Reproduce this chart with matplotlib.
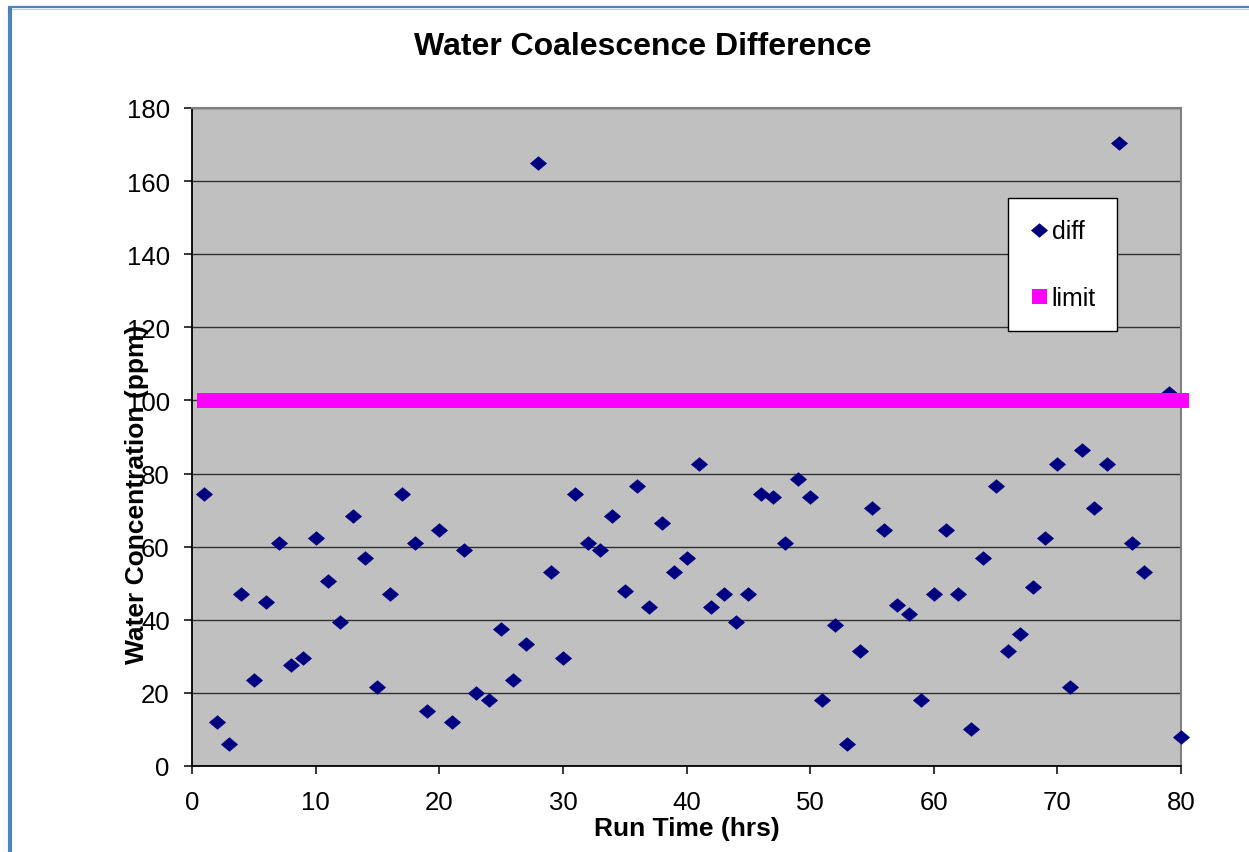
import matplotlib
matplotlib.use("Agg")
import matplotlib.pyplot as plt
from matplotlib.lines import Line2D

plt.rcParams['font.family'] = ['Liberation Sans', 'DejaVu Sans']

# ---- data ----
run_time = list(range(1, 78)) + [79, 80]
diff = [74.5, 12, 6, 47, 23.5, 45, 61, 27.5, 29.5, 62.5,
        50.5, 39.5, 68.5, 57, 21.5, 47, 74.5, 61, 15, 64.5,
        12, 59, 20, 18, 37.5, 23.5, 33.5, 165, 53, 29.5,
        74.5, 61, 59, 68.5, 48, 76.5, 43.5, 66.5, 53, 57,
        82.5, 43.5, 47, 39.5, 47, 74.5, 73.5, 61, 78.5, 73.5,
        18, 38.5, 6, 31.5, 70.5, 64.5, 44, 41.5, 18, 47,
        64.5, 47, 10, 57, 76.5, 31.5, 36, 49, 62.5, 82.5,
        21.5, 86.5, 70.5, 82.5, 170.5, 61, 53, 102, 8]
limit_x = list(range(1, 81))
limit_y = [100] * 80

title = "Water Coalescence Difference"
xlabel = "Run Time (hrs)"
ylabel = "Water Concentration (ppm)"
xticks = [0, 10, 20, 30, 40, 50, 60, 70, 80]
yticks = [0, 20, 40, 60, 80, 100, 120, 140, 160, 180]

W, H = 1249, 853
fig = plt.figure(figsize=(W / 100, H / 100), dpi=100)
fig.patch.set_facecolor('white')

# outer chart border (blue, left and top)
fig.add_artist(Line2D([10 / W, 10 / W], [0, 1 - 8 / H], color='#4F81BD', lw=3.0,
                      transform=fig.transFigure, solid_capstyle='butt'))
fig.add_artist(Line2D([8 / W, 1], [1 - 8 / H, 1 - 8 / H], color='#4F81BD', lw=1.6,
                      transform=fig.transFigure, solid_capstyle='butt'))
fig.add_artist(Line2D([12 / W, 1], [1 - 9.8 / H, 1 - 9.8 / H], color='#B9CDE5', lw=0.8,
                      transform=fig.transFigure, solid_capstyle='butt'))

l, r, t, b = 192, 1181, 109, 767
ax = fig.add_axes([l / W, 1 - b / H, (r - l) / W, (b - t) / H])
ax.set_facecolor('#C0C0C0')

diamond = [(-1, 0), (0, 0.85), (1, 0), (0, -0.85), (-1, 0)]
ax.plot(run_time, diff, linestyle='none', marker=diamond, markersize=11.5,
        color='#000080', markeredgecolor='#000080', markeredgewidth=0.5,
        label='diff', zorder=3, clip_on=False)
ax.plot(limit_x, limit_y, linestyle='none', marker='s', markersize=10.8,
        color='#FF00FF', markeredgewidth=0, label='limit', zorder=4,
        clip_on=False)

ax.set_xlim(0, 80)
ax.set_ylim(0, 180)
ax.set_xticks(xticks)
ax.set_yticks(yticks)
ax.yaxis.grid(True, color='#000000', lw=1.0, alpha=0.75)
ax.set_axisbelow(True)

for s in ['left', 'bottom']:
    ax.spines[s].set_color('#000000')
    ax.spines[s].set_linewidth(1.3)
for s in ['top', 'right']:
    ax.spines[s].set_color('#808080')
    ax.spines[s].set_linewidth(1.5)

ax.tick_params(axis='both', direction='out', length=6, width=1.1, color='#000000',
               labelsize=18.5)
ax.tick_params(axis='y', pad=10)
ax.tick_params(axis='x', pad=11)

ax.set_xlabel(xlabel, fontsize=19, fontweight='bold', labelpad=2)
fig.text(137 / W, 1 - 494 / H, ylabel, rotation=90, ha='center', va='center',
         fontsize=19, fontweight='bold')

fig.text(643 / W, 1 - 47 / H, title, ha='center', va='center',
         fontsize=23, fontweight='bold')

leg = ax.legend(loc='upper left', bbox_to_anchor=((1008 - l) / (r - l), (b - 199) / (b - t)),
                borderaxespad=0, fontsize=18, frameon=True, fancybox=False,
                shadow=False, framealpha=1, edgecolor='#000000',
                handlelength=0.8, handletextpad=0.1, labelspacing=1.7,
                borderpad=0.85, markerscale=1.0)
leg.get_frame().set_linewidth(1.0)
leg.get_frame().set_facecolor('white')

fig.savefig('out.png', dpi=100)
